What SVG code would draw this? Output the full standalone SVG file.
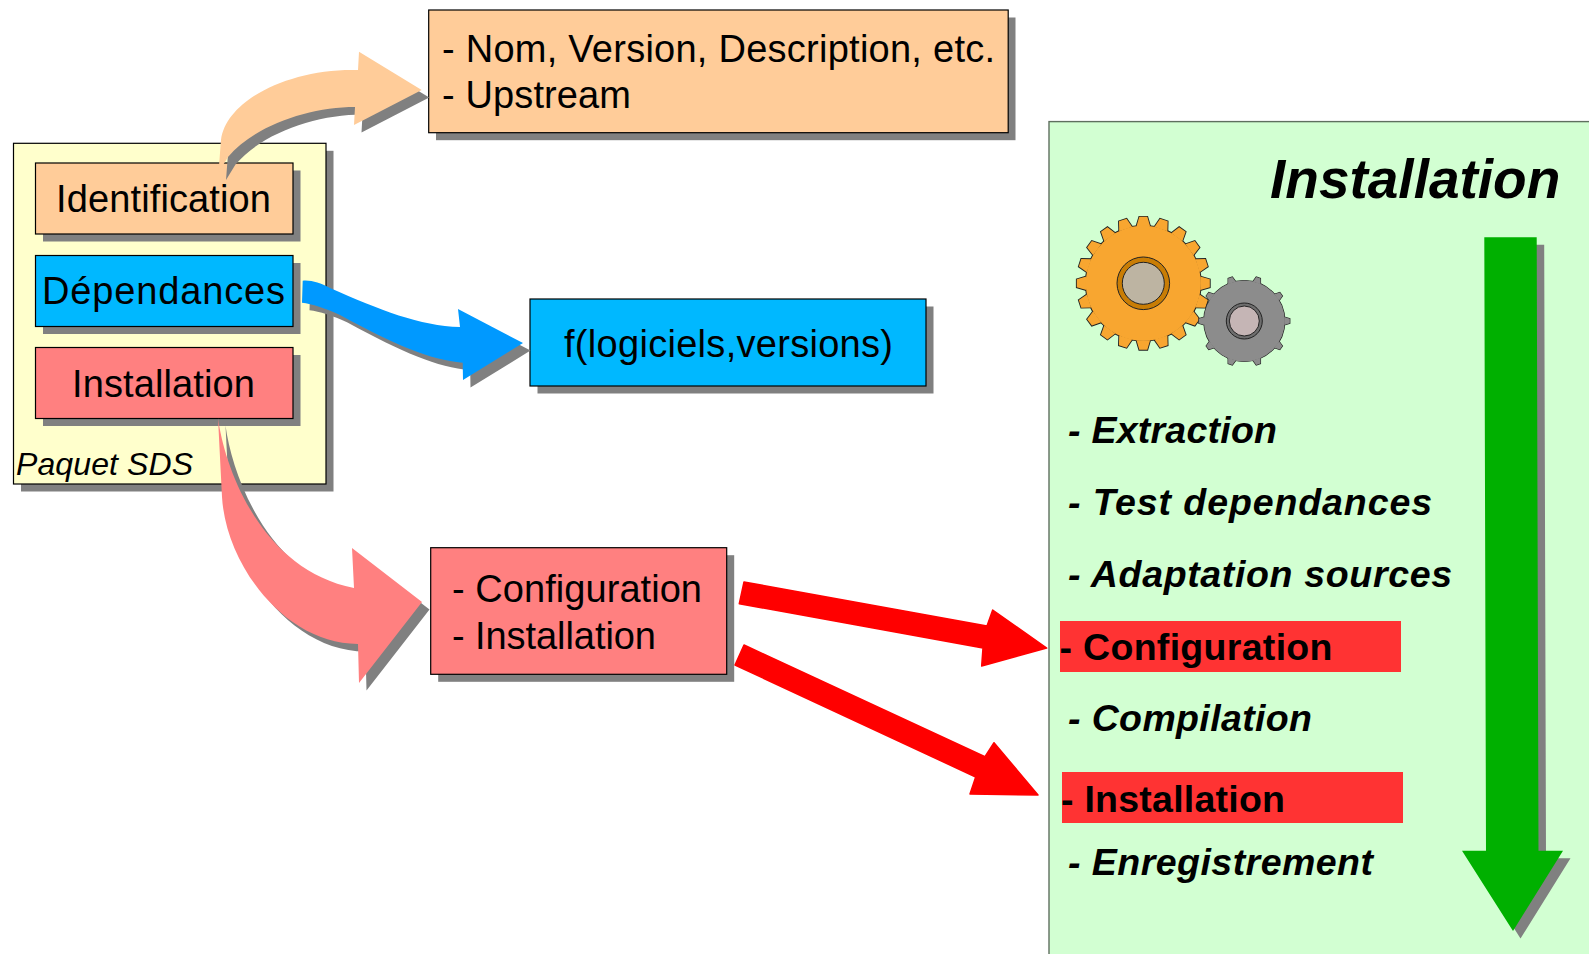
<svg xmlns="http://www.w3.org/2000/svg" width="1589" height="954" viewBox="0 0 1589 954">
<style>
text{font-family:"Liberation Sans",Arial,sans-serif;fill:#000}
.t{font-size:38px}
.l{font-size:37.5px;font-weight:bold;font-style:italic}
.b{font-size:37.5px;font-weight:bold}
.box{stroke:#000;stroke-width:1.2}
.sh{fill:#808080}
</style>
<defs>
<path id="a-id" d="M218.5 172.5L221 140C226 100 290 68 358 70L359 51.7L421.7 90L354 125L355 107C310 107 255 125 228 157Z"/>
<path id="a-dep" d="M302.7 280.7C312 280 320 283 330 288C380 310 420 326 460 327L458 309L523 343L463 380L462.7 362.7C430 360 395 345 340 315C325 308 312 304 302 302.7Z"/>
<path id="a-ins" d="M218 418L222 497C226 565 285 644 358 644L359 683L422 602L352 548L354 588C262 570 225 470 218 418Z"/>
<path id="a-green" d="M1484.300 237.300H1536.700L1538.500 850.700H1563L1513 931L1462 850.700H1486Z"/>
<path id="tooth20" d="M-6.800 -57L-4 -66.500H4L6.800 -57Z"/>
<path id="tooth10" d="M-4 -40L-2.200 -45.500H2.200L4 -40Z"/>
<g id="teeth20">
<use href="#tooth20"/><use href="#tooth20" transform="rotate(18)"/><use href="#tooth20" transform="rotate(36)"/><use href="#tooth20" transform="rotate(54)"/><use href="#tooth20" transform="rotate(72)"/><use href="#tooth20" transform="rotate(90)"/><use href="#tooth20" transform="rotate(108)"/><use href="#tooth20" transform="rotate(126)"/><use href="#tooth20" transform="rotate(144)"/><use href="#tooth20" transform="rotate(162)"/><use href="#tooth20" transform="rotate(180)"/><use href="#tooth20" transform="rotate(198)"/><use href="#tooth20" transform="rotate(216)"/><use href="#tooth20" transform="rotate(234)"/><use href="#tooth20" transform="rotate(252)"/><use href="#tooth20" transform="rotate(270)"/><use href="#tooth20" transform="rotate(288)"/><use href="#tooth20" transform="rotate(306)"/><use href="#tooth20" transform="rotate(324)"/><use href="#tooth20" transform="rotate(342)"/>
</g>
<g id="teeth10">
<use href="#tooth10" transform="rotate(18)"/><use href="#tooth10" transform="rotate(54)"/><use href="#tooth10" transform="rotate(90)"/><use href="#tooth10" transform="rotate(126)"/><use href="#tooth10" transform="rotate(162)"/><use href="#tooth10" transform="rotate(198)"/><use href="#tooth10" transform="rotate(234)"/><use href="#tooth10" transform="rotate(270)"/><use href="#tooth10" transform="rotate(306)"/><use href="#tooth10" transform="rotate(342)"/>
</g>
</defs>
<rect width="1589" height="954" fill="#fff"/>

<g id="paquet-sds">
<rect class="sh" x="21" y="150.800" width="312.500" height="340.700"/>
<rect class="box" x="13.500" y="143.300" width="312.500" height="340.700" fill="#ffffcc"/>
<text x="16" y="475" font-size="32" font-style="italic" textLength="177">Paquet SDS</text>
</g>
<g id="identification">
<rect class="sh" x="43" y="170.500" width="257.500" height="71"/>
<rect class="box" x="35.500" y="163" width="257.500" height="71" fill="#ffcc99"/>
<text class="t" x="56" y="211.500" textLength="215">Identification</text>
</g>
<g id="dependances">
<rect class="sh" x="43" y="263" width="257.500" height="71"/>
<rect class="box" x="35.500" y="255.500" width="257.500" height="71" fill="#00b8ff"/>
<text class="t" x="42" y="304" textLength="243">Dépendances</text>
</g>
<g id="installation">
<rect class="sh" x="43" y="355" width="257.500" height="71"/>
<rect class="box" x="35.500" y="347.500" width="257.500" height="71" fill="#ff8080"/>
<text class="t" x="72" y="396.500" textLength="183">Installation</text>
</g>
<g id="metadata">
<rect class="sh" x="436" y="17.500" width="579.500" height="122.700"/>
<rect class="box" x="428.700" y="10" width="579.500" height="122.700" fill="#ffcc99"/>
<text class="t" x="442" y="62" textLength="553">- Nom, Version, Description, etc.</text>
<text class="t" x="442" y="107.500" textLength="189">- Upstream</text>
</g>
<g id="fonction">
<rect class="sh" x="537.500" y="306.500" width="396" height="87"/>
<rect class="box" x="530" y="299" width="396" height="87" fill="#00b8ff"/>
<text class="t" x="564" y="357" textLength="329">f(logiciels,versions)</text>
</g>
<g id="config-install">
<rect class="sh" x="438.200" y="555.200" width="296" height="126.600"/>
<rect class="box" x="430.700" y="547.700" width="296" height="126.600" fill="#ff8080"/>
<text class="t" x="452" y="602" textLength="250">- Configuration</text>
<text class="t" x="452" y="649" textLength="204">- Installation</text>
</g>
<g id="panneau-installation">
<rect x="1049" y="121.600" width="560" height="860" fill="#d2ffd2" stroke="#5f6f5f" stroke-width="1.400"/>
<text x="1270" y="197.600" font-size="55" font-weight="bold" font-style="italic">Installation</text>
<rect x="1060" y="621" width="341" height="51" fill="#ff3333"/>
<rect x="1062" y="772" width="341" height="51" fill="#ff3333"/>
<text class="l" x="1068" y="443" textLength="209">- Extraction</text>
<text class="l" x="1068" y="515" textLength="364">- Test dependances</text>
<text class="l" x="1068" y="587" textLength="384">- Adaptation sources</text>
<text class="b" x="1059.500" y="660" textLength="273">- Configuration</text>
<text class="l" x="1068" y="731" textLength="244">- Compilation</text>
<text class="b" x="1061" y="812" textLength="224">- Installation</text>
<text class="l" x="1068" y="875" textLength="305">- Enregistrement</text>
</g>
<g id="engrenage-grand" transform="translate(1143.300 283.300)">
<use href="#teeth20" fill="#222" stroke="#222" stroke-width="1.800"/>
<circle r="57.500" fill="#222" stroke="#222" stroke-width="1.800"/>
<use href="#teeth20" fill="#f8a630"/>
<circle r="57.500" fill="#f8a630"/>
<circle r="26.300" fill="#c97d05" stroke="#222" stroke-width="1"/>
<circle r="21" fill="#bdb4a2" stroke="#222" stroke-width="1"/>
</g>
<g id="engrenage-petit" transform="translate(1244.300 321)">
<use href="#teeth10" fill="#222" stroke="#222" stroke-width="1.200"/>
<circle r="40.500" fill="#222" stroke="#222" stroke-width="1.200"/>
<use href="#teeth10" fill="#8c8c8c"/>
<circle r="40.500" fill="#8c8c8c"/>
<circle r="18" fill="#6e6e6e" stroke="#222" stroke-width="1"/>
<circle r="15" fill="#c5b5b5" stroke="#222" stroke-width="1"/>
</g>

<g id="connecteurs">
<use href="#a-id" class="sh" transform="translate(7.500 7.500)"/>
<use href="#a-id" fill="#ffcc99"/>
<use href="#a-dep" class="sh" transform="translate(7.500 7.500)"/>
<use href="#a-dep" fill="#0099ff"/>
<use href="#a-ins" class="sh" transform="translate(7.500 7.500)"/>
<use href="#a-ins" fill="#ff8080"/>
<path d="M744 582L987 626L992.700 610L1046.700 648L981.700 666L983 648L739.300 603.700Z" fill="#f00" stroke="#f00" stroke-width="1.500" stroke-linejoin="round"/>
<path d="M744 645L985 756.700L994 742.700L1038 795L970 794L975.700 777L735 665Z" fill="#f00" stroke="#f00" stroke-width="1.500" stroke-linejoin="round"/>
<use href="#a-green" class="sh" transform="translate(7.500 7.500)"/>
<use href="#a-green" fill="#00b000"/>
</g>
</svg>
